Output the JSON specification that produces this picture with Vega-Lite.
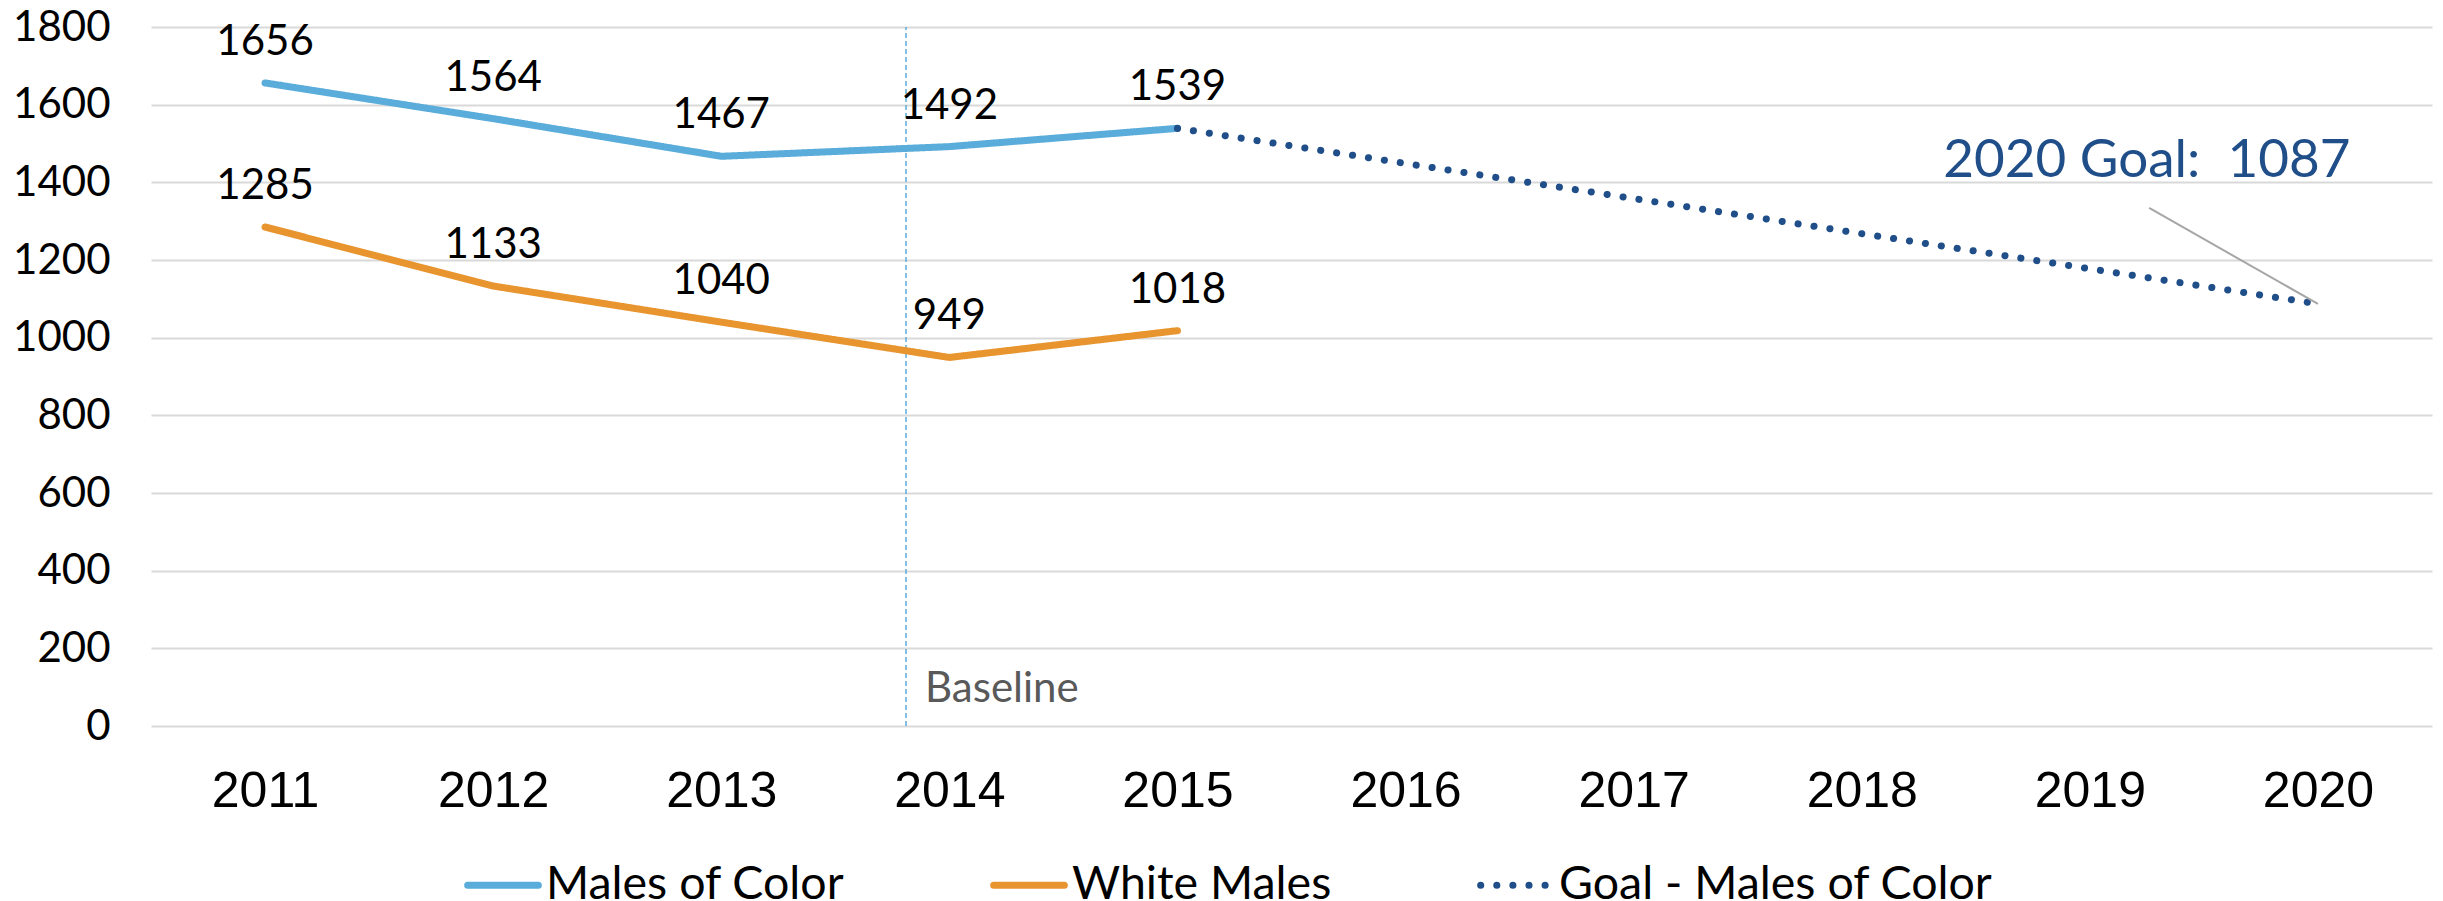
{
  "$schema": "https://vega.github.io/schema/vega-lite/v6.json",
  "width": 2281,
  "height": 699,
  "autosize": {"type": "none"},
  "padding": {"left": 151, "top": 27, "right": 11, "bottom": 175},
  "background": "white",
  "config": {"view": {"stroke": null}},
  "datasets": {
    "series": [
      {"year": 2011, "value": 1656, "series": "Males of Color"},
      {"year": 2012, "value": 1564, "series": "Males of Color"},
      {"year": 2013, "value": 1467, "series": "Males of Color"},
      {"year": 2014, "value": 1492, "series": "Males of Color"},
      {"year": 2015, "value": 1539, "series": "Males of Color"},
      {"year": 2011, "value": 1285, "series": "White Males"},
      {"year": 2012, "value": 1133, "series": "White Males"},
      {"year": 2013, "value": 1040, "series": "White Males"},
      {"year": 2014, "value": 949, "series": "White Males"},
      {"year": 2015, "value": 1018, "series": "White Males"},
      {"year": 2015, "value": 1539, "series": "Goal - Males of Color"},
      {"year": 2020, "value": 1087, "series": "Goal - Males of Color"}
    ],
    "baseline": [{"year": 2013.81, "y": 0, "y2": 1800, "label": "Baseline", "ly": 62}],
    "goal": [{"year": 2019.26, "y": 1334, "year2": 2020, "y2": 1087, "label": "2020 Goal: \u00a01087", "lx": 2019.25, "ly": 1414}]
  },
  "layer": [
    {
      "data": {"name": "baseline"},
      "mark": {"type": "rule", "stroke": "#5AACDA", "strokeWidth": 1.5, "strokeDash": [5, 3]},
      "encoding": {
        "x": {"field": "year", "type": "quantitative"},
        "y": {"field": "y", "type": "quantitative"},
        "y2": {"field": "y2"}
      }
    },
    {
      "data": {"name": "baseline"},
      "mark": {"type": "text", "font": "Lato", "fontSize": 42, "fill": "#595959", "align": "left", "baseline": "alphabetic", "dx": 19},
      "encoding": {
        "x": {"field": "year", "type": "quantitative"},
        "y": {"field": "ly", "type": "quantitative"},
        "text": {"field": "label"}
      }
    },
    {
      "data": {"name": "series"},
      "mark": {"type": "line", "strokeWidth": 7, "strokeCap": "round", "strokeJoin": "round"},
      "encoding": {
        "x": {
          "field": "year", "type": "quantitative",
          "scale": {"domain": [2010.5, 2020.5], "nice": false, "zero": false},
          "axis": {
            "title": null, "values": [2011, 2012, 2013, 2014, 2015, 2016, 2017, 2018, 2019, 2020],
            "format": "d", "grid": false, "domain": false, "ticks": false,
            "labelFont": "Liberation Sans", "labelFontSize": 50, "labelColor": "#000000",
            "labelBaseline": "alphabetic", "labelPadding": 80
          }
        },
        "y": {
          "field": "value", "type": "quantitative",
          "scale": {"domain": [0, 1800], "nice": false},
          "axis": {
            "title": null, "values": [0, 200, 400, 600, 800, 1000, 1200, 1400, 1600, 1800], "format": "d",
            "grid": true, "gridColor": "#D9D9D9", "gridWidth": 2, "domain": false, "ticks": false,
            "labelFont": "Lato", "labelFontSize": 42, "labelColor": "#000000", "labelPadding": 41
          }
        },
        "color": {
          "field": "series", "type": "nominal",
          "scale": {"domain": ["Males of Color", "White Males", "Goal - Males of Color"], "range": ["#5AACDA", "#E8952F", "#1F4E89"]},
          "legend": {
            "title": null, "orient": "none", "direction": "horizontal", "legendX": 313, "legendY": 819,
            "symbolType": "stroke", "symbolSize": 5000, "symbolStrokeWidth": 7,
            "labelFont": "Lato", "labelFontSize": 46.5, "labelColor": "#000000", "labelOffset": 4,
            "columnPadding": 134, "labelLimit": 1000,
            "encode": {"symbols": {"update": {"strokeCap": {"value": "round"}}}}
          }
        },
        "strokeDash": {
          "field": "series", "type": "nominal",
          "scale": {"domain": ["Males of Color", "White Males", "Goal - Males of Color"], "range": [[1, 0], [1, 0], [0.1, 16]]},
          "legend": {
            "title": null, "orient": "none", "direction": "horizontal", "legendX": 313, "legendY": 819,
            "symbolType": "stroke", "symbolSize": 5000, "symbolStrokeWidth": 7,
            "labelFont": "Lato", "labelFontSize": 46.5, "labelColor": "#000000", "labelOffset": 4,
            "columnPadding": 134, "labelLimit": 1000,
            "encode": {"symbols": {"update": {"strokeCap": {"value": "round"}}}}
          }
        }
      }
    },
    {
      "data": {"name": "series"},
      "transform": [{"filter": "datum.series !== 'Goal - Males of Color'"}],
      "mark": {"type": "text", "font": "Lato", "fontSize": 42, "fill": "#000000", "baseline": "alphabetic", "dy": -28},
      "encoding": {
        "x": {"field": "year", "type": "quantitative"},
        "y": {"field": "value", "type": "quantitative"},
        "text": {"field": "value", "type": "quantitative", "format": "d"}
      }
    },
    {
      "data": {"name": "goal"},
      "mark": {"type": "rule", "stroke": "#A6A6A6", "strokeWidth": 2},
      "encoding": {
        "x": {"field": "year", "type": "quantitative"},
        "y": {"field": "y", "type": "quantitative"},
        "x2": {"field": "year2"},
        "y2": {"field": "y2"}
      }
    },
    {
      "data": {"name": "goal"},
      "mark": {"type": "text", "font": "Lato", "fontSize": 53, "fill": "#1F4E89", "baseline": "alphabetic", "align": "center"},
      "encoding": {
        "x": {"field": "lx", "type": "quantitative"},
        "y": {"field": "ly", "type": "quantitative"},
        "text": {"field": "label"}
      }
    }
  ]
}
